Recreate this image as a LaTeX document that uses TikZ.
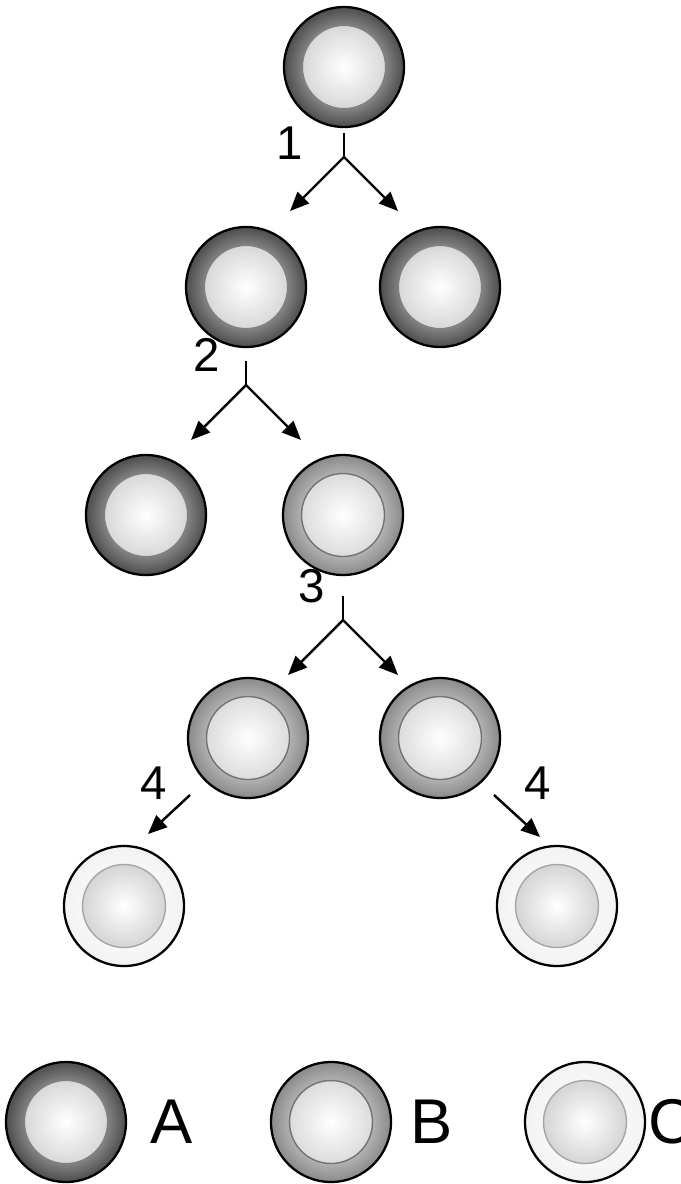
\documentclass[tikz,border=0pt]{standalone}
\usepackage{fontspec}
\setmainfont{Liberation Sans}
\usepackage{tikz}
\usetikzlibrary{arrows.meta}

\pgfdeclareradialshading{ringA}{\pgfpoint{0bp}{0bp}}{color(0bp)=(black!48); color(17bp)=(black!48); color(25bp)=(black!70); color(50bp)=(black!70)}
\pgfdeclareradialshading{ringB}{\pgfpoint{0bp}{0bp}}{color(0bp)=(black!30); color(17bp)=(black!30); color(25bp)=(black!46); color(50bp)=(black!46)}
\pgfdeclareradialshading{ringC}{\pgfpoint{0bp}{0bp}}{color(0bp)=(black!3); color(17bp)=(black!3); color(25bp)=(black!5); color(50bp)=(black!5)}

\tikzset{
  cell/.style={circle, draw=black, line width=1.3pt, minimum size=2.4cm, inner sep=0pt},
  cellA/.style={cell, shade, shading=ringA, path picture={\shadedraw[inner color=white, outer color=black!22, draw=black!50, line width=.6pt] (path picture bounding box.center) circle (0.83cm);}},
  cellB/.style={cell, shade, shading=ringB, path picture={\shadedraw[inner color=white, outer color=black!20, draw=black!55, line width=.8pt] (path picture bounding box.center) circle (0.83cm);}},
  cellC/.style={cell, shade, shading=ringC, path picture={\shadedraw[inner color=white, outer color=black!24, draw=black!35, line width=.8pt] (path picture bounding box.center) circle (0.83cm);}},
  arr/.style={line width=1.4pt, -{Triangle[length=0.38cm, width=0.32cm]}},
  num/.style={font=\fontsize{27}{27}\selectfont},
  key/.style={font=\fontsize{36}{36}\selectfont, anchor=west, inner sep=0pt}
}

\begin{document}
\begin{tikzpicture}[x=0.02cm, y=-0.02cm]
  \useasboundingbox (0,0) rectangle (680,1184);
  \node [cellA] (0) at (344, 67) {};
  \node [cellA] (1) at (246, 287) {};
  \node [cellA] (2) at (440, 287) {};
  \node [cellA] (3) at (146, 515) {};
  \node [cellB] (4) at (343, 515) {};
  \node [cellB] (5) at (248, 738) {};
  \node [cellB] (6) at (440, 738) {};
  \node [cellC] (7) at (124, 906) {};
  \node [cellC] (8) at (557, 906) {};
  % legend
  \node [cellA] (la) at (66, 1122) {};
  \node [cellB] (lb) at (331, 1122) {};
  \node [cellC] (lc) at (585, 1122) {};
  \node [key] (ka) at (150, 1122) {A};
  \node [key] (kb) at (410, 1122) {B};
  \node [key] (kc) at (648, 1122) {C};
  % splits
  \coordinate (s1) at (344, 133);
  \coordinate (j1) at (344, 157);
  \coordinate (t1a) at (290, 211);
  \coordinate (t1b) at (398, 211);
  \coordinate (s2) at (246, 361);
  \coordinate (j2) at (246, 385);
  \coordinate (t2a) at (191, 440);
  \coordinate (t2b) at (301, 440);
  \coordinate (s3) at (343, 596);
  \coordinate (j3) at (343, 620);
  \coordinate (t3a) at (288, 675);
  \coordinate (t3b) at (398, 675);
  \coordinate (s4a) at (190, 795);
  \coordinate (t4a) at (148, 834);
  \coordinate (s4b) at (494, 795);
  \coordinate (t4b) at (540, 837);
  \node [num] (n1) at (290, 143) {1};
  \node [num] (n2) at (207, 355) {2};
  \node [num] (n3) at (312, 586) {3};
  \node [num] (n4a) at (154, 783) {4};
  \node [num] (n4b) at (538, 783) {4};
  \draw [line width=1.4pt] (s1) -- (j1);
  \draw [arr] (j1) -- (t1a);
  \draw [arr] (j1) -- (t1b);
  \draw [line width=1.4pt] (s2) -- (j2);
  \draw [arr] (j2) -- (t2a);
  \draw [arr] (j2) -- (t2b);
  \draw [line width=1.4pt] (s3) -- (j3);
  \draw [arr] (j3) -- (t3a);
  \draw [arr] (j3) -- (t3b);
  \draw [arr] (s4a) -- (t4a);
  \draw [arr] (s4b) -- (t4b);
\end{tikzpicture}
\end{document}
